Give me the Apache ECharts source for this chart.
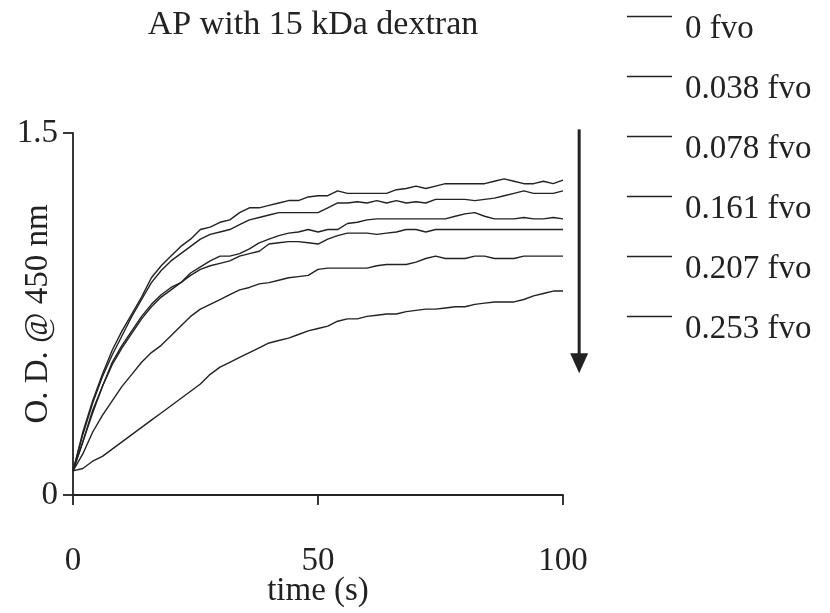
<!doctype html>
<html>
<head>
<meta charset="utf-8">
<title>AP with 15 kDa dextran</title>
<script type="text/javascript" src="https://cdn.jsdelivr.net/npm/echarts@6/dist/echarts.min.js"></script>
</head>
<body style="margin:0;padding:0;background:#fff">
<div id="tb" style="width:830px;height:613px;"></div>
<script>
// 数据：时间 (s)
var times = [0,2,4,6,8,10,12,14,16,18,20,22,24,26,28,30,32,34,36,38,40,42,44,46,48,50,
             52,54,56,58,60,62,64,66,68,70,72,74,76,78,80,82,84,86,88,90,92,94,96,98,100];
var fvoNames = ['0 fvo','0.038 fvo','0.078 fvo','0.161 fvo','0.207 fvo','0.253 fvo'];
var od0 = [0.10,0.26,0.39,0.50,0.60,0.68,0.75,0.82,0.90,0.95,0.99,1.03,1.06,1.10,1.11,1.13,1.14,1.17,1.19,1.19,1.20,1.21,1.22,1.22,1.235,1.24,
           1.24,1.26,1.25,1.25,1.25,1.25,1.25,1.265,1.27,1.28,1.27,1.28,1.29,1.29,1.29,1.29,1.29,1.30,1.31,1.30,1.29,1.29,1.30,1.29,1.305];
var od038 = [0.10,0.25,0.38,0.49,0.58,0.66,0.74,0.81,0.88,0.93,0.97,1.00,1.03,1.06,1.08,1.09,1.10,1.12,1.14,1.15,1.16,1.17,1.17,1.17,1.17,1.17,
             1.19,1.21,1.21,1.215,1.21,1.22,1.21,1.22,1.21,1.215,1.21,1.225,1.225,1.225,1.225,1.22,1.225,1.23,1.24,1.25,1.26,1.25,1.25,1.25,1.26];
var od078 = [0.10,0.22,0.34,0.45,0.55,0.62,0.68,0.74,0.79,0.83,0.86,0.88,0.92,0.945,0.97,0.99,0.99,1.00,1.02,1.045,1.06,1.075,1.085,1.09,1.10,1.09,
             1.10,1.10,1.125,1.13,1.14,1.144,1.144,1.144,1.144,1.144,1.144,1.144,1.144,1.155,1.165,1.17,1.155,1.144,1.144,1.144,1.15,1.144,1.144,1.15,1.144];
var od161 = [0.10,0.22,0.35,0.45,0.54,0.61,0.67,0.73,0.78,0.82,0.85,0.88,0.91,0.935,0.95,0.96,0.97,0.99,1.00,1.01,1.04,1.045,1.05,1.05,1.045,1.04,
             1.06,1.075,1.085,1.085,1.085,1.08,1.085,1.09,1.10,1.10,1.09,1.10,1.10,1.10,1.10,1.10,1.10,1.10,1.10,1.10,1.10,1.10,1.10,1.10,1.10];
var od207 = [0.10,0.17,0.26,0.33,0.39,0.45,0.50,0.55,0.59,0.62,0.66,0.70,0.74,0.77,0.79,0.81,0.83,0.85,0.86,0.875,0.88,0.89,0.90,0.905,0.91,0.935,
             0.94,0.94,0.94,0.94,0.94,0.95,0.955,0.955,0.955,0.965,0.98,0.99,0.98,0.98,0.98,0.99,0.99,0.98,0.98,0.98,0.99,0.99,0.99,0.99,0.99];
var od253 = [0.10,0.11,0.14,0.16,0.19,0.22,0.25,0.28,0.31,0.34,0.37,0.40,0.43,0.46,0.50,0.53,0.55,0.57,0.59,0.61,0.63,0.64,0.65,0.665,0.68,0.69,
             0.70,0.72,0.73,0.73,0.74,0.745,0.75,0.75,0.76,0.765,0.77,0.77,0.775,0.78,0.78,0.79,0.795,0.80,0.80,0.80,0.81,0.825,0.835,0.845,0.845];
var odSets = [od0, od038, od078, od161, od207, od253];
var xTicks = [0, 50, 100];
var yTicks = [0, 1.5];

var serif = '"Liberation Serif", "DejaVu Serif", serif';
var ink = '#222';

var bt = document.getElementById('tb');
var chart = echarts.init(bt);

var series = odSets.map(function (arr, i) {
    return {
        name: fvoNames[i],
        type: 'line',
        showSymbol: false,
        symbol: 'none',
        lineStyle: { color: ink, width: 1.4 },
        itemStyle: { color: ink },
        data: times.map(function (t, k) { return [t, arr[k]]; })
    };
});

chart.setOption({
    animation: false,
    title: {
        text: 'AP with 15 kDa dextran',
        left: 308,
        textAlign: 'center',
        top: 3,
        textStyle: { fontFamily: serif, fontSize: 34, fontWeight: 'normal', color: ink }
    },
    legend: {
        orient: 'vertical',
        left: 627,
        top: -13,
        padding: 0,
        itemWidth: 45,
        itemHeight: 1.6,
        itemGap: 1,
        icon: 'rect',
        data: fvoNames,
        formatter: function (name) { return '{a|' + name + '}'; },
        textStyle: {
            rich: {
                a: { fontFamily: serif, fontSize: 33, lineHeight: 30, color: ink, padding: [26, 0, 0, 8] }
            }
        }
    },
    grid: { left: 73, right: 267, top: 133, bottom: 118, outerBoundsMode: 'none', containLabel: false },
    xAxis: {
        type: 'value',
        min: xTicks[0],
        max: xTicks[xTicks.length - 1],
        interval: xTicks[1] - xTicks[0],
        name: 'time (s)',
        nameLocation: 'middle',
        nameGap: 80,
        nameMoveOverlap: false,
        nameTextStyle: { fontFamily: serif, fontSize: 33, color: ink },
        splitLine: { show: false },
        axisLine: { lineStyle: { color: ink, width: 1.8 } },
        axisTick: { length: 10, lineStyle: { color: ink, width: 1.8 } },
        axisLabel: { margin: 50, fontFamily: serif, fontSize: 33, color: ink }
    },
    yAxis: {
        type: 'value',
        min: yTicks[0],
        max: yTicks[1],
        interval: yTicks[1] - yTicks[0],
        name: 'O. D. @ 450 nm',
        nameLocation: 'middle',
        nameGap: 18,
        nameMoveOverlap: false,
        nameTextStyle: { fontFamily: serif, fontSize: 33, color: ink },
        splitLine: { show: false },
        axisLine: { show: true, lineStyle: { color: ink, width: 1.8 } },
        axisTick: { show: true, length: 10, lineStyle: { color: ink, width: 1.8 } },
        axisLabel: { margin: 15, fontFamily: serif, fontSize: 33, color: ink,
                     formatter: function (v) { return v === 0 ? '0' : v.toFixed(1); } }
    },
    series: series
});

// 箭头：浓度增加方向
var arrowTop = chart.convertToPixel({ gridIndex: 0 }, [103.3, 1.515]);
var arrowTip = chart.convertToPixel({ gridIndex: 0 }, [103.3, 0.505]);
chart.setOption({
    graphic: [
        { type: 'line', shape: { x1: arrowTop[0], y1: arrowTop[1], x2: arrowTip[0], y2: arrowTip[1] - 18 },
          style: { stroke: ink, lineWidth: 3 } },
        { type: 'polygon', shape: { points: [[arrowTip[0] - 9, arrowTip[1] - 20], [arrowTip[0] + 9, arrowTip[1] - 20], [arrowTip[0], arrowTip[1]]] },
          style: { fill: ink } }
    ]
});
</script>
</body>
</html>
